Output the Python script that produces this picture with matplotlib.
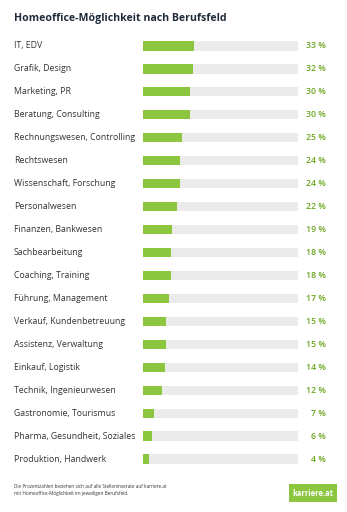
import matplotlib.pyplot as plt
import matplotlib.transforms as mtransforms
from matplotlib.patches import FancyBboxPatch

plt.rcParams["font.family"] = ["Open Sans", "DejaVu Sans"]

categories = [
    "IT, EDV", "Grafik, Design", "Marketing, PR", "Beratung, Consulting",
    "Rechnungswesen, Controlling", "Rechtswesen", "Wissenschaft, Forschung",
    "Personalwesen", "Finanzen, Bankwesen", "Sachbearbeitung",
    "Coaching, Training", "Führung, Management", "Verkauf, Kundenbetreuung",
    "Assistenz, Verwaltung", "Einkauf, Logistik", "Technik, Ingenieurwesen",
    "Gastronomie, Tourismus", "Pharma, Gesundheit, Soziales",
    "Produktion, Handwerk",
]
values = [33, 32, 30, 30, 25, 24, 24, 22, 19, 18, 18, 17, 15, 15, 14, 12, 7, 6, 4]

green = "#8cc63f"
dark = "#1e2a3a"
W, H = 347, 512

fig = plt.figure(figsize=(W / 100, H / 100), dpi=100)
fig.patch.set_facecolor("white")

top_px, bot_px = 34.5, 470.5
ax = fig.add_axes([143 / W, 1 - bot_px / H, (298 - 143) / W, (bot_px - top_px) / H])
ypos = list(range(len(categories)))
ax.barh(ypos, [100] * len(values), height=0.4, color="#ebebeb")
ax.barh(ypos, values, height=0.4, color=green)
ax.set_xlim(0, 100)
ax.set_ylim(len(categories) - 0.5, -0.5)
ax.axis("off")

trans = mtransforms.blended_transform_factory(fig.transFigure, ax.transData)
for y, cat, v in zip(ypos, categories, values):
    ax.text(14 / W, y, cat, transform=trans, ha="left", va="center",
            fontsize=6.3, color="#333333")
    ax.text(326 / W, y, f"{v} %", transform=trans, ha="right", va="center",
            fontsize=6.3, color="#6aa61e", fontweight="semibold")

fig.text(14 / W, 1 - 19 / H, "Homeoffice-Möglichkeit nach Berufsfeld",
         ha="left", va="center", fontsize=7.6, fontweight="bold", color=dark)

fig.text(14 / W, 1 - 490 / H,
         "Die Prozentzahlen beziehen sich auf alle Stelleninserate auf karriere.at\n"
         "mit Homeoffice-Möglichkeit im jeweiligen Berufsfeld.",
         ha="left", va="center", fontsize=3.3, color="#333333", linespacing=1.5)

logo = FancyBboxPatch((289 / W, 1 - 502 / H), 48 / W, 18 / H,
                      boxstyle="square,pad=0", transform=fig.transFigure,
                      facecolor=green, edgecolor="none")
fig.patches.append(logo)
fig.text(313 / W, 1 - 493 / H, "karriere.at", ha="center", va="center",
         fontsize=5.5, fontweight="bold", color="white")

fig.savefig("out.png", dpi=100)
